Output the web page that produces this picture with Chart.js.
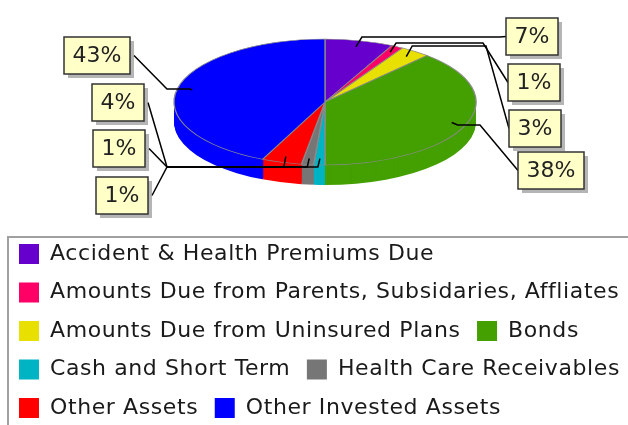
<!DOCTYPE html>
<html>
<head>
<meta charset="utf-8">
<script src="https://cdn.jsdelivr.net/npm/chart.js@4.4.1/dist/chart.umd.min.js"></script>
<style>
    html, body { margin: 0; padding: 0; background: #fff; overflow: hidden; }
    canvas { display: block; }
</style>
</head>
<body>
<canvas id="chart" width="700" height="431"></canvas>
<script>
var categories = [
    'Accident & Health Premiums Due',
    'Amounts Due from Parents, Subsidaries, Affliates',
    'Amounts Due from Uninsured Plans',
    'Bonds',
    'Cash and Short Term',
    'Health Care Receivables',
    'Other Assets',
    'Other Invested Assets'
];
var shares = [7.3, 1.3, 3.2, 38.2, 1.2, 1.3, 4.3, 43.2];
var sliceColors = ['#6600cc', '#ff0066', '#e8e000', '#44a000', '#00b4c4', '#767676', '#ff0000', '#0000ff'];

// where the tilted pie sits on the page
var pieCenterX = 325, pieCenterY = 102, pieRadiusX = 151, pieRadiusY = 63, pieDepth = 20;

// callout boxes (top-left corner), y of the leader's run, x where it turns to the box
var callouts = [
    {x: 506, y: 18, runY: 37, bendX: 500, side: 1},
    {x: 508, y: 64, runY: 43, bendX: 483, side: 1},
    {x: 509, y: 110, runY: 46, bendX: 486, side: 1},
    {x: 518, y: 152, runY: 125, bendX: 480, side: 1},
    {x: 96, y: 177, runY: 167, bendX: 167, side: -1},
    {x: 93, y: 130, runY: 167, bendX: 167, side: -1},
    {x: 92, y: 84, runY: 167, bendX: 167, side: -1},
    {x: 64, y: 37, runY: 89, bendX: 167, side: -1}
];

var labelFont = '22px "DejaVu Sans"';
var legendSpacing = '0.6px';

function pieTransform(ctx, arc, dy) {
    var R = arc.outerRadius;
    ctx.translate(pieCenterX, pieCenterY + dy);
    ctx.scale(pieRadiusX / R, pieRadiusY / R);
    ctx.translate(-arc.x, -arc.y);
}

var pie3d = {
    id: 'pie3d',
    beforeLayout(chart) {
        chart.ctx.letterSpacing = legendSpacing;
    },
    beforeDraw(chart) {
        chart.ctx.letterSpacing = legendSpacing;
    },
    beforeDatasetsDraw(chart) {
        var ctx = chart.ctx;
        var arcs = chart.getDatasetMeta(0).data;
        // side of the pie: slice shapes pushed down, deepest first
        for (var d = pieDepth; d >= 1; d--) {
            arcs.forEach(function (arc, i) {
                ctx.save();
                pieTransform(ctx, arc, d);
                ctx.beginPath();
                ctx.moveTo(arc.x, arc.y);
                ctx.arc(arc.x, arc.y, arc.outerRadius, arc.startAngle, arc.endAngle);
                ctx.closePath();
                ctx.fillStyle = sliceColors[i];
                ctx.fill();
                ctx.restore();
            });
        }
        ctx.save();
        pieTransform(ctx, arcs[0], 0);
    },
    afterDatasetsDraw(chart) {
        chart.ctx.restore();
    },
    afterDraw(chart) {
        var ctx = chart.ctx;
        var legend = chart.legend;

        // frame around the legend
        ctx.save();
        ctx.strokeStyle = '#a0a0a0';
        ctx.lineWidth = 2;
        ctx.strokeRect(legend.left + 5.5, legend.top + 10.5, chart.width, chart.height);
        ctx.restore();

        // callouts
        var arcs = chart.getDatasetMeta(0).data;
        ctx.save();
        ctx.letterSpacing = '0px';
        ctx.font = labelFont;
        var boxes = [];
        arcs.forEach(function (arc, i) {
            var c = callouts[i];
            var mid = (arc.startAngle + arc.endAngle) / 2;
            var ax = pieCenterX + Math.cos(mid) * 0.9 * pieRadiusX;
            var ay = pieCenterY + Math.sin(mid) * 0.9 * pieRadiusY;
            var text = Math.round(shares[i]) + '%';
            var w = Math.round(ctx.measureText(text).width + 17);
            var h = 37;
            var endX = c.side > 0 ? c.x : c.x + w + 4;
            var endY = c.y + h / 2;
            ctx.strokeStyle = '#000';
            ctx.lineWidth = 1.5;
            ctx.beginPath();
            ctx.moveTo(ax, ay);
            ctx.lineTo(ax + (c.side > 0 ? 6 : -2), c.runY);
            ctx.lineTo(c.bendX, c.runY);
            ctx.lineTo(endX, endY);
            ctx.stroke();
            boxes.push({x: c.x, y: c.y, w: w, h: h, text: text});
        });
        boxes.forEach(function (b) {
            ctx.fillStyle = 'rgba(120,120,120,0.55)';
            ctx.fillRect(b.x + 4, b.y + 4, b.w, b.h);
            ctx.fillStyle = '#ffffc8';
            ctx.fillRect(b.x, b.y, b.w, b.h);
            ctx.strokeStyle = '#333';
            ctx.lineWidth = 1.5;
            ctx.strokeRect(b.x, b.y, b.w, b.h);
            ctx.fillStyle = '#222';
            ctx.textAlign = 'center';
            ctx.textBaseline = 'middle';
            ctx.fillText(b.text, b.x + b.w / 2, b.y + b.h / 2 + 1);
        });
        ctx.restore();
    }
};

var ctx = document.getElementById('chart').getContext('2d');
var chart = new Chart(ctx, {
    type: 'pie',
    data: {
        labels: categories,
        datasets: [{
            data: shares,
            backgroundColor: sliceColors,
            borderColor: '#8a8a8a',
            borderWidth: 1,
            hoverOffset: 0,
            clip: false
        }]
    },
    options: {
        responsive: false,
        animation: false,
        events: [],
        layout: { padding: { left: 2.5, bottom: 2, top: 0, right: 0 } },
        plugins: {
            tooltip: { enabled: false },
            legend: {
                position: 'bottom',
                align: 'start',
                labels: {
                    boxWidth: 20,
                    boxHeight: 20,
                    padding: 16.5,
                    color: '#1a1a1a',
                    font: { family: 'DejaVu Sans', size: 22 },
                    generateLabels: function (chart) {
                        var items = Chart.overrides.pie.plugins.legend.labels.generateLabels(chart);
                        items.forEach(function (it) { it.lineWidth = 0; });
                        return items;
                    }
                }
            }
        }
    },
    plugins: [pie3d]
});
</script>
</body>
</html>
